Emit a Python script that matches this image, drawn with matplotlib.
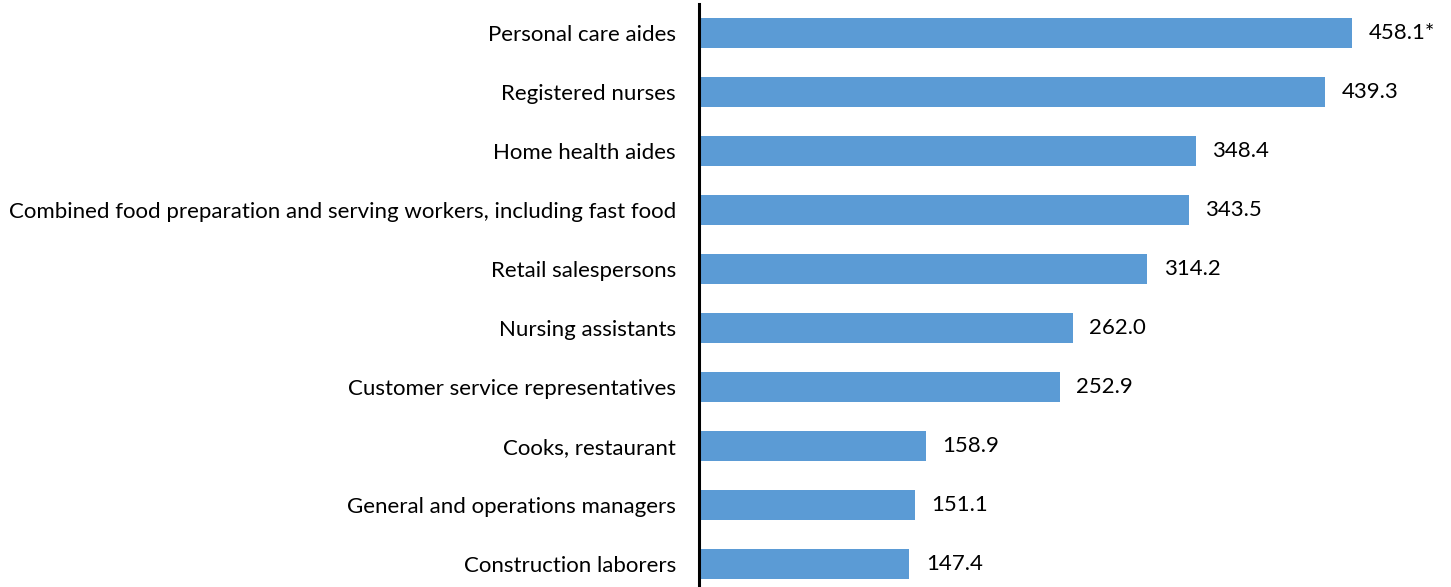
import numpy as np
import matplotlib.pyplot as plt

# ocupaciones y valores (miles)
ocupaciones = ['Personal care aides', 'Registered nurses', 'Home health aides',
               'Combined food preparation and serving workers, including fast food',
               'Retail salespersons', 'Nursing assistants',
               'Customer service representatives', 'Cooks, restaurant',
               'General and operations managers', 'Construction laborers']
valores = [458.1, 439.3, 348.4, 343.5, 314.2, 262.0, 252.9, 158.9, 151.1, 147.4]
etiquetas = ['458.1*', '439.3', '348.4', '343.5', '314.2', '262.0', '252.9',
             '158.9', '151.1', '147.4']

plt.rcParams['font.family'] = ['Lato', 'DejaVu Sans']

fig = plt.figure(figsize=(14.51, 5.87), dpi=100)
ax = fig.add_axes([0.482, -6/587, 0.491, 589/587])

y = np.arange(len(valores))
ax.barh(y, valores, height=0.51, color='#5B9BD5')
for yi, v, t in zip(y, valores, etiquetas):
    ax.annotate(t, (v, yi), xytext=(12, 0), textcoords='offset points',
                va='center', ha='left', fontsize=16)

ax.set_ylim(9.5, -0.5)
ax.set_xlim(0, 500)
ax.set_yticks(y)
ax.set_yticklabels(ocupaciones, fontsize=16)
ax.tick_params(axis='y', length=0, pad=17)
ax.set_xticks([])
for s in ['top', 'right', 'bottom']:
    ax.spines[s].set_visible(False)
ax.spines['left'].set_linewidth(2.2)

fig.savefig('out.png', dpi=100)
